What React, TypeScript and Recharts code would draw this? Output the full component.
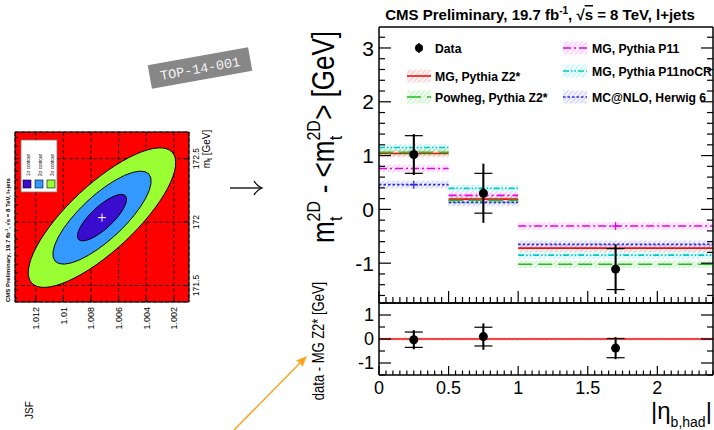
import React from 'react';
import {
  CartesianGrid,
  ComposedChart,
  ErrorBar,
  Line,
  ReferenceArea,
  Scatter,
  ScatterChart,
  XAxis,
  YAxis,
} from 'recharts';

const FONT = '"Liberation Sans", Arial, Helvetica, sans-serif';

// binning in |eta_b,had|
const BIN_EDGES = [0, 0.5, 1, 2.4];
const BIN_CENTERS = [0.25, 0.75, 1.7];

// data, upper panel
const DATA_VALUES = [1.02, 0.3, -1.11];
const DATA_STAT = [0.35, 0.37, 0.38];
const DATA_TOTAL = [0.38, 0.55, 0.46];

// simulation per bin
const MG_Z2 = [1.04, 0.19, -0.72];
const POWHEG_Z2 = [1.06, 0.17, -1.02];
const MG_P11 = [0.76, 0.26, -0.31];
const MG_P11NOCR = [1.15, 0.39, -0.85];
const MCNLO_HERWIG = [0.46, 0.13, -0.65];
const MC_UNCERTAINTY = [0.07, 0.07, 0.07];

// lower panel: data - MG Z2*
const DIFF_VALUES = [-0.03, 0.1, -0.38];
const DIFF_STAT = [0.32, 0.39, 0.4];
const DIFF_TOTAL = [0.4, 0.55, 0.46];

const X_LABELS = ['0', '0.5', '1', '1.5', '2'];
const Y_LABELS = ['-1', '0', '1', '2', '3'];
const DIFF_Y_LABELS = ['-1', '0', '1'];

// thumbnail of the JSF / m_t likelihood
const JSF_LABELS = ['1.012', '1.01', '1.008', '1.006', '1.004', '1.002'];
const MT_LABELS = ['171.5', '172', '172.5'];
const FIT_RESULT = [{ jsf: 1.0072, mt: 172.035 }];

const MODELS = [
  { name: 'MG, Pythia Z2*', values: MG_Z2, color: '#ee1111', dash: undefined, hatch: 'h-red' },
  { name: 'Powheg, Pythia Z2*', values: POWHEG_Z2, color: '#22bb22', dash: '14 6', hatch: 'h-green' },
  { name: 'MG, Pythia P11', values: MG_P11, color: '#e800e8', dash: '8 3 2 3', hatch: 'h-magenta' },
  { name: 'MG, Pythia P11noCR', values: MG_P11NOCR, color: '#00c8c8', dash: '6 2 1.5 2 1.5 2', hatch: 'h-cyan' },
  { name: 'MC@NLO, Herwig 6', values: MCNLO_HERWIG, color: '#2a2ae0', dash: '2.5 2', hatch: 'h-blue' },
];

const range = (a: number, b: number, step: number) => {
  const out: number[] = [];
  for (let v = a; v <= b + 1e-9; v += step) out.push(Math.round(v * 10000) / 10000);
  return out;
};

const near = (list: number[], v: number) => list.some((m) => Math.abs(m - v) < 1e-6);

const X_MAJOR = X_LABELS.map(Number);
const Y_MAJOR = Y_LABELS.map(Number);
const DIFF_Y_MAJOR = DIFF_Y_LABELS.map(Number);
const X_TICKS = range(0, 2.4, 0.05);
const Y_TICKS = range(-1.6, 3.2, 0.2);
const DIFF_Y_TICKS = range(-1.5, 1.5, 0.5);

// horizontal bin segments with gaps between bins
function segments(values: number[]) {
  const pts: { x: number; y: number | null }[] = [];
  values.forEach((v, i) => {
    pts.push({ x: BIN_EDGES[i], y: v }, { x: BIN_EDGES[i + 1], y: v });
    if (i < values.length - 1) pts.push({ x: BIN_EDGES[i + 1], y: null });
  });
  return pts;
}

const dataPoints = BIN_CENTERS.map((x, i) => ({ x, y: DATA_VALUES[i], stat: DATA_STAT[i], total: DATA_TOTAL[i] }));
const diffPoints = BIN_CENTERS.map((x, i) => ({ x, y: DIFF_VALUES[i], stat: DIFF_STAT[i], total: DIFF_TOTAL[i] }));

const AXIS = { stroke: '#000', strokeWidth: 1.5 };

function xTick(side: 'top' | 'bottom', majorLen: number, minorLen: number, fontSize = 0) {
  return (props: any) => {
    const { x, y, payload } = props;
    const v = payload.value;
    const major = near(X_MAJOR, v);
    const dir = side === 'bottom' ? -1 : 1;
    const label = fontSize && major ? X_LABELS[X_MAJOR.findIndex((m) => Math.abs(m - v) < 1e-6)] : null;
    return (
      <g>
        <line x1={x} x2={x} y1={y} y2={y + dir * (major ? majorLen : minorLen)} stroke="#000" strokeWidth={1.2} />
        {label && (
          <text x={x} y={y + fontSize + 1} textAnchor="middle" fontSize={fontSize} fontFamily={FONT}>
            {label}
          </text>
        )}
      </g>
    );
  };
}

function yTick(side: 'left' | 'right', majors: number[], labels: string[] | null, majorLen: number, minorLen: number, fontSize = 0) {
  return (props: any) => {
    const { x, y, payload } = props;
    const v = payload.value;
    const major = near(majors, v);
    const dir = side === 'left' ? 1 : -1;
    const label = labels && major ? labels[majors.findIndex((m) => Math.abs(m - v) < 1e-6)] : null;
    return (
      <g>
        <line x1={x} x2={x + dir * (major ? majorLen : minorLen)} y1={y} y2={y} stroke="#000" strokeWidth={1.2} />
        {label && (
          <text x={x - 5} y={y + fontSize * 0.36} textAnchor="end" fontSize={fontSize} fontFamily={FONT}>
            {label}
          </text>
        )}
      </g>
    );
  };
}

const dot = (p: any) => <circle cx={p.cx} cy={p.cy} r={4.5} fill="#000" />;
const cross = (color: string) => (p: any) => (
  <g stroke={color} strokeWidth={1.3}>
    <line x1={p.cx - 4} x2={p.cx + 4} y1={p.cy} y2={p.cy} />
    <line x1={p.cx} x2={p.cx} y1={p.cy - 4} y2={p.cy + 4} />
  </g>
);

function Patterns() {
  const cols: [string, string][] = [
    ['h-red', '#ff5555'],
    ['h-green', '#44dd44'],
    ['h-magenta', '#ff55ff'],
    ['h-cyan', '#33dddd'],
    ['h-blue', '#6666ff'],
  ];
  return (
    <svg width={0} height={0} style={{ position: 'absolute' }}>
      <defs>
        {cols.map(([id, c]) => (
          <pattern key={id} id={id} width={3.5} height={3.5} patternUnits="userSpaceOnUse" patternTransform="rotate(45)">
            <rect width={3.5} height={3.5} fill={c} fillOpacity={0.08} />
            <line x1={0} y1={0} x2={0} y2={3.5} stroke={c} strokeWidth={1.2} strokeOpacity={0.45} />
          </pattern>
        ))}
      </defs>
    </svg>
  );
}

// axes are 1px wide/high (a zero-sized axis is not drawn), margins compensate
const XAX = { type: 'number' as const, height: 1, tickSize: 0, tickMargin: 0, tickLine: false, interval: 0 as const, allowDataOverflow: true };
const YAX = { type: 'number' as const, width: 1, tickSize: 0, tickMargin: 0, tickLine: false, interval: 0 as const, allowDataOverflow: true };

function UpperPanel() {
  return (
    <ComposedChart width={714} height={430} margin={{ top: 26, right: 0, bottom: 126, left: 378 }}>
      <XAxis {...XAX} dataKey="x" domain={[0, 2.4]} ticks={X_TICKS} axisLine={AXIS} tick={xTick('bottom', 12, 6)} />
      <XAxis {...XAX} xAxisId="t" orientation="top" domain={[0, 2.4]} ticks={X_TICKS} axisLine={AXIS} tick={xTick('top', 12, 6)} />
      <YAxis {...YAX} dataKey="y" domain={[-1.74, 3.39]} ticks={Y_TICKS} axisLine={AXIS} tick={yTick('left', Y_MAJOR, Y_LABELS, 12, 6, 21)} />
      <YAxis {...YAX} yAxisId="r" orientation="right" domain={[-1.74, 3.39]} ticks={Y_TICKS} axisLine={AXIS} tick={yTick('right', Y_MAJOR, null, 12, 6)} />
      {MODELS.map((m) =>
        m.values.map((v, i) => (
          <ReferenceArea key={`${m.hatch}-${i}`} x1={BIN_EDGES[i]} x2={BIN_EDGES[i + 1]} y1={v - MC_UNCERTAINTY[i]} y2={v + MC_UNCERTAINTY[i]} fill={`url(#${m.hatch})`} fillOpacity={1} stroke="none" />
        ))
      )}
      {MODELS.map((m) => (
        <Line key={m.name} data={segments(m.values)} dataKey="y" type="linear" stroke={m.color} strokeWidth={1.6} strokeDasharray={m.dash} dot={false} activeDot={false} connectNulls={false} isAnimationActive={false} />
      ))}
      <Scatter data={[{ x: BIN_CENTERS[0], y: MCNLO_HERWIG[0] }]} dataKey="y" shape={cross('#2a2ae0')} isAnimationActive={false} />
      <Scatter data={[{ x: BIN_CENTERS[2], y: MG_P11[2] }]} dataKey="y" shape={cross('#e800e8')} isAnimationActive={false} />
      <Scatter data={dataPoints} dataKey="y" shape={dot} isAnimationActive={false}>
        <ErrorBar dataKey="total" direction="y" width={0} stroke="#000" strokeWidth={2} />
        <ErrorBar dataKey="stat" direction="y" width={9} stroke="#000" strokeWidth={1.2} />
      </Scatter>
    </ComposedChart>
  );
}

function LowerPanel() {
  return (
    <ComposedChart width={714} height={430} margin={{ top: 302, right: 0, bottom: 54, left: 378 }}>
      <XAxis {...XAX} dataKey="x" domain={[0, 2.4]} ticks={X_TICKS} axisLine={AXIS} tick={xTick('bottom', 9, 4.5, 18)} />
      <XAxis {...XAX} xAxisId="t" orientation="top" domain={[0, 2.4]} ticks={X_TICKS} axisLine={AXIS} tick={xTick('top', 9, 4.5)} />
      <YAxis {...YAX} dataKey="y" domain={[-1.5, 1.5]} ticks={DIFF_Y_TICKS} axisLine={AXIS} tick={yTick('left', DIFF_Y_MAJOR, DIFF_Y_LABELS, 12, 6, 18)} />
      <YAxis {...YAX} yAxisId="r" orientation="right" domain={[-1.5, 1.5]} ticks={DIFF_Y_TICKS} axisLine={AXIS} tick={yTick('right', DIFF_Y_MAJOR, null, 12, 6)} />
      <ReferenceArea x1={0} x2={2.4} y1={-0.07} y2={0.07} fill="url(#h-red)" fillOpacity={1} stroke="none" />
      <Line data={[{ x: 0, y: 0 }, { x: 2.4, y: 0 }]} dataKey="y" stroke="#ee1111" strokeWidth={1.4} dot={false} activeDot={false} isAnimationActive={false} />
      <Scatter data={diffPoints} dataKey="y" shape={dot} isAnimationActive={false}>
        <ErrorBar dataKey="total" direction="y" width={0} stroke="#000" strokeWidth={2} />
        <ErrorBar dataKey="stat" direction="y" width={9} stroke="#000" strokeWidth={1.2} />
      </Scatter>
    </ComposedChart>
  );
}

const ELLIPSES = [
  { a: 96, b: 33, fill: '#99ff33' },
  { a: 64, b: 22, fill: '#3399ff' },
  { a: 32, b: 11, fill: '#3a0cd0' },
];

const contours = (p: any) => (
  <g>
    {ELLIPSES.map((e) => (
      <ellipse key={e.fill} cx={p.cx} cy={p.cy} rx={e.a} ry={e.b} fill={e.fill} stroke="#000" strokeWidth={0.9} transform={`rotate(-43 ${p.cx} ${p.cy})`} />
    ))}
    <g stroke="#fff" strokeWidth={1}>
      <line x1={p.cx - 4} x2={p.cx + 4} y1={p.cy} y2={p.cy} />
      <line x1={p.cx} x2={p.cx} y1={p.cy - 4} y2={p.cy + 4} />
    </g>
  </g>
);

const JSF_TICKS = JSF_LABELS.map(Number);
const MT_TICKS = MT_LABELS.map(Number);

const jsfTick = (props: any) => {
  const { x, y, payload } = props;
  const i = JSF_TICKS.findIndex((t) => Math.abs(t - payload.value) < 1e-7);
  return (
    <g>
      <line x1={x} x2={x} y1={y} y2={y - 5} stroke="#000" />
      <text transform={`translate(${x + 3.5},${y + 5}) rotate(-90)`} textAnchor="end" fontSize={9} fontFamily={FONT}>
        {JSF_LABELS[i]}
      </text>
    </g>
  );
};

const mtTick = (props: any) => {
  const { x, y, payload } = props;
  const i = MT_TICKS.findIndex((t) => Math.abs(t - payload.value) < 1e-7);
  return (
    <g>
      <line x1={x} x2={x - 5} y1={y} y2={y} stroke="#000" />
      <text transform={`translate(${x + 10},${y}) rotate(-90)`} textAnchor="middle" fontSize={8.5} fontFamily={FONT}>
        {MT_LABELS[i]}
      </text>
    </g>
  );
};

const minorTick = (dir: 'down' | 'right') => (props: any) => {
  const { x, y } = props;
  return dir === 'down' ? <line x1={x} x2={x} y1={y} y2={y + 3} stroke="#000" /> : <line x1={x} x2={x + 3} y1={y} y2={y} stroke="#000" />;
};

function Thumbnail() {
  return (
    <ScatterChart width={220} height={330} margin={{ top: 131, right: 30, bottom: 27, left: 14 }}>
      <CartesianGrid fill="#ff0000" fillOpacity={1} stroke="#000" strokeDasharray="4 2" strokeWidth={0.8} />
      <XAxis {...XAX} dataKey="jsf" reversed domain={[1.0009, 1.0135]} ticks={JSF_TICKS} axisLine={{ stroke: '#000' }} tick={jsfTick} />
      <XAxis {...XAX} xAxisId="t" orientation="top" reversed domain={[1.0009, 1.0135]} ticks={range(1.001, 1.0135, 0.0005)} axisLine={{ stroke: '#000' }} tick={minorTick('down')} />
      <YAxis {...YAX} dataKey="mt" orientation="right" domain={[171.37, 172.71]} ticks={MT_TICKS} axisLine={{ stroke: '#000' }} tick={mtTick} />
      <YAxis {...YAX} yAxisId="l" orientation="left" domain={[171.37, 172.71]} ticks={range(171.4, 172.7, 0.0667)} axisLine={{ stroke: '#000' }} tick={minorTick('right')} />
      <Scatter data={FIT_RESULT} shape={contours} isAnimationActive={false} />
    </ScatterChart>
  );
}

function LegendSample({ x, y, model }: { x: number; y: number; model?: (typeof MODELS)[number] }) {
  if (!model) {
    return (
      <g>
        <line x1={x + 12} x2={x + 12} y1={y - 5} y2={y + 5} stroke="#000" strokeWidth={1.5} />
        <circle cx={x + 12} cy={y} r={4} fill="#000" />
      </g>
    );
  }
  return (
    <g>
      <rect x={x} y={y - 6.5} width={24} height={13} fill={`url(#${model.hatch})`} />
      <line x1={x} x2={x + 24} y1={y} y2={y} stroke={model.color} strokeWidth={1.6} strokeDasharray={model.dash} />
    </g>
  );
}

function Decorations() {
  const leftRows = [48, 76, 97];
  const rightRows = [48, 71, 97];
  const left = [undefined, MODELS[0], MODELS[1]];
  const right = [MODELS[2], MODELS[3], MODELS[4]];
  const leftNames = ['Data', MODELS[0].name, MODELS[1].name];
  return (
    <svg width={714} height={430} style={{ position: 'absolute', left: 0, top: 0, pointerEvents: 'none' }} fontFamily={FONT}>
      {/* title */}
      <text x={540} y={20} textAnchor="middle" fontSize={15} fontWeight="bold">
        CMS Preliminary, 19.7 fb
        <tspan fontSize={10} dy={-6}>-1</tspan>
        <tspan dy={6}>{',  √'}</tspan>
        <tspan style={{ textDecoration: 'overline' }}>s</tspan>
        <tspan>{' = 8 TeV, l+jets'}</tspan>
      </text>

      {/* legend */}
      {leftRows.map((ry, i) => (
        <g key={`l${i}`}>
          <LegendSample x={407} y={ry} model={left[i]} />
          <text x={435} y={ry + 4.5} fontSize={12.2} fontWeight="bold">{leftNames[i]}</text>
        </g>
      ))}
      {rightRows.map((ry, i) => (
        <g key={`r${i}`}>
          <LegendSample x={563} y={ry} model={right[i]} />
          <text x={592} y={ry + 4.5} fontSize={12.2} fontWeight="bold">{right[i].name}</text>
        </g>
      ))}

      {/* axis titles */}
      <text transform="translate(334,137) rotate(-90) scale(1,1.2)" textAnchor="middle" fontSize={26}>
        m
        <tspan fontSize={16} dy={-12}>2D</tspan>
        <tspan fontSize={16} dx={-20} dy={19}>t</tspan>
        <tspan dx={16} dy={-7}>{' - <m'}</tspan>
        <tspan fontSize={16} dy={-12}>2D</tspan>
        <tspan fontSize={16} dx={-20} dy={19}>t</tspan>
        <tspan dx={16} dy={-7}>{'> [GeV]'}</tspan>
      </text>
      <text transform="translate(324,341) rotate(-90) scale(1,1.2)" textAnchor="middle" fontSize={13}>
        data - MG Z2* [GeV]
      </text>
      <text x={651} y={419} fontSize={24}>
        |η
        <tspan fontSize={14} dy={8}>b,had</tspan>
        <tspan dy={-8}>|</tspan>
      </text>

      {/* arrows */}
      <g stroke="#000" strokeWidth={1.3} fill="none">
        <line x1={230} x2={261} y1={188} y2={188} />
        <path d="M254,181 Q257,186 262,188 Q257,190 254,195" />
      </g>
      <line x1={234} y1={430} x2={301} y2={362} stroke="#f6a623" strokeWidth={1.5} />
      <polygon points="307,356 302.5,367 300,363 296,360.5" fill="#f6a623" />

      {/* analysis tag */}
      <g transform="translate(200,68) rotate(-10.2)">
        <rect x={-51} y={-12} width={102} height={24} fill="#878787" />
        <text x={0} y={5} textAnchor="middle" fontSize={13.5} fill="#f4f4f4" fontFamily={'"Liberation Mono", "DejaVu Sans Mono", monospace'}>
          TOP-14-001
        </text>
      </g>

      {/* thumbnail texts */}
      <text transform="translate(10,302) rotate(-90)" fontSize={6} fontWeight="bold">
        CMS Preliminary, 19.7 fb<tspan fontSize={4} dy={-2}>-1</tspan><tspan dy={2}>, √s = 8 TeV, l+jets</tspan>
      </text>
      <rect x={21} y={140} width={36} height={52} fill="#fff" stroke="#777" strokeWidth={0.8} />
      {ELLIPSES.slice().reverse().map((e, i) => (
        <g key={e.fill}>
          <rect x={23 + i * 12} y={180} width={8} height={8} fill={e.fill} stroke="#000" strokeWidth={0.6} />
          <text transform={`translate(${30 + i * 12},176) rotate(-90)`} fontSize={4.6}>
            {`${i + 1}σ contour`}
          </text>
        </g>
      ))}
      <text transform="translate(210,149) rotate(-90)" textAnchor="middle" fontSize={10}>
        m<tspan fontSize={7} dy={2}>t</tspan><tspan dy={-2}> [GeV]</tspan>
      </text>
      <text transform="translate(33,410) rotate(-90)" textAnchor="middle" fontSize={10}>
        JSF
      </text>
    </svg>
  );
}

export default function App() {
  return (
    <div style={{ position: 'absolute', left: 0, top: 0, width: 714, height: 430, background: '#fff', overflow: 'hidden' }}>
      <Patterns />
      <div style={{ position: 'absolute', left: 0, top: 0 }}>
        <Thumbnail />
      </div>
      <div style={{ position: 'absolute', left: 0, top: 0 }}>
        <UpperPanel />
      </div>
      <div style={{ position: 'absolute', left: 0, top: 0 }}>
        <LowerPanel />
      </div>
      <Decorations />
    </div>
  );
}
